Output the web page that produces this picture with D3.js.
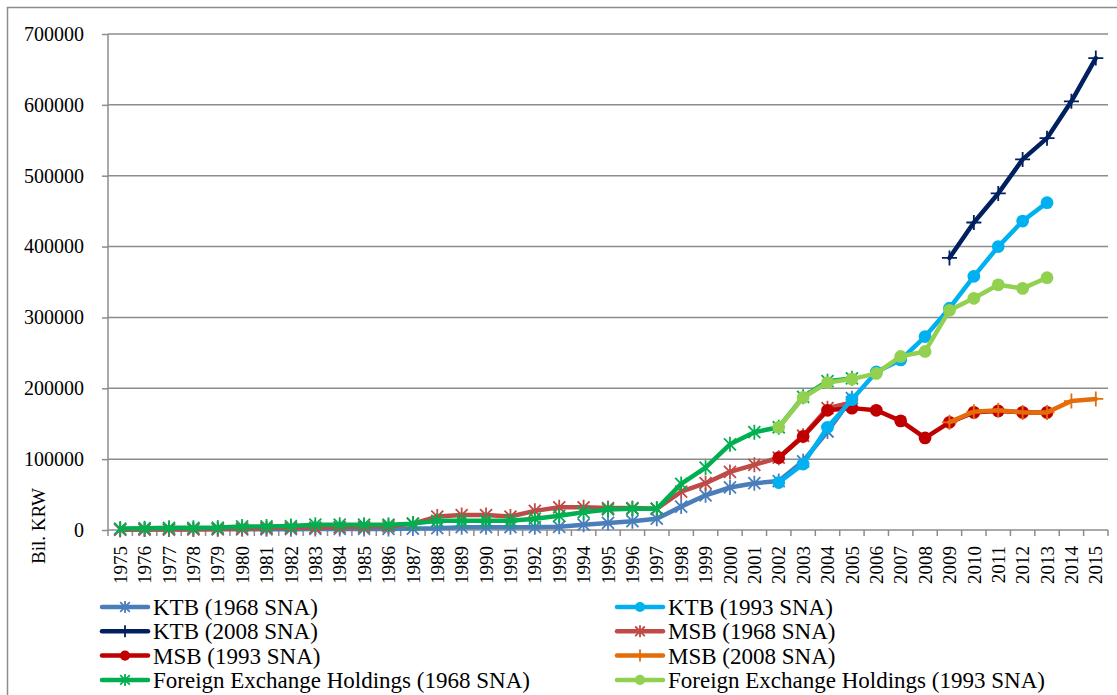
<!DOCTYPE html>
<html>
<head>
<meta charset="utf-8">
<script src="https://cdn.jsdelivr.net/npm/d3@7"></script>
<style>
  body { margin: 0; background: #fff; }
  text { font-family: "Liberation Serif", "Times New Roman", serif; fill: #000; }
</style>
</head>
<body>
<div id="chart"></div>
<script>
var years = d3.range(1975, 2016).map(String);
var yTicks = [0, 100000, 200000, 300000, 400000, 500000, 600000, 700000];

// 1975-2005
var ktb1968 = [500, 600, 700, 800, 900, 1000, 1000, 1200, 1500, 1500, 1500, 1500, 2000, 2500, 4000, 4000, 4000, 4000, 4500, 7500,
  10000, 12500, 16000, 33000, 49000, 60000, 66000, 69000, 97000, 139000, 186000];
var msb1968 = [500, 800, 1000, 1200, 1500, 2000, 2500, 3000, 3500, 4000, 4500, 5000, 9000, 19000, 21000, 21000, 19000, 27000, 32000, 32000,
  31000, 31000, 30000, 54000, 66000, 82000, 92000, 102000, 133000, 172000, 180000];
var fx1968 = [2000, 2500, 3000, 3000, 3500, 5000, 5000, 5500, 7500, 7500, 7500, 7500, 9000, 13000, 13000, 13000, 13000, 16000, 20000, 25000,
  29000, 30000, 30000, 65000, 88000, 121000, 138000, 145000, 188000, 210000, 214000];
// 2002-2013
var ktb1993 = [67000, 93000, 145000, 184000, 223000, 240000, 273000, 313000, 358000, 400000, 436000, 462000];
var msb1993 = [102000, 132000, 169000, 172000, 169000, 154000, 130000, 152000, 166000, 168000, 166000, 166000];
var fx1993 = [145000, 187000, 208000, 213000, 221000, 245000, 252000, 310000, 327000, 346000, 341000, 356000];
// 2009-2015
var ktb2008 = [384000, 434000, 475000, 523000, 553000, 605000, 666000];
var msb2008 = [152000, 167000, 169000, 166000, 166000, 182000, 185000];

function pts(vals, start) {
  return vals.map(function(v, i) { return {year: String(start + i), value: v}; });
}

var series = [
  {name: "KTB (1968 SNA)", color: "#4A7EBB", marker: "star", data: pts(ktb1968, 1975), z: 0},
  {name: "KTB (1993 SNA)", color: "#00B0F0", marker: "circle", data: pts(ktb1993, 2002), z: 4},
  {name: "KTB (2008 SNA)", color: "#002060", marker: "plus", data: pts(ktb2008, 2009), z: 7},
  {name: "MSB (1968 SNA)", color: "#BE4B48", marker: "star", data: pts(msb1968, 1975), z: 1},
  {name: "MSB (1993 SNA)", color: "#C00000", marker: "circle", data: pts(msb1993, 2002), z: 3},
  {name: "MSB (2008 SNA)", color: "#E46C0A", marker: "plus", data: pts(msb2008, 2009), z: 6},
  {name: "Foreign Exchange Holdings (1968 SNA)", color: "#00B050", marker: "star", data: pts(fx1968, 1975), z: 2},
  {name: "Foreign Exchange Holdings (1993 SNA)", color: "#92D050", marker: "circle", data: pts(fx1993, 2002), z: 5}
];

var W = 1117, H = 695;
var plotLeft = 108, plotRight = 1108, plotTop = 34, plotBottom = 530;

var svg = d3.select("#chart").append("svg")
    .attr("width", W)
    .attr("height", H);

svg.append("rect")
    .attr("x", 7.5).attr("y", 7.5)
    .attr("width", W + 20).attr("height", H + 20)
    .attr("fill", "none")
    .attr("stroke", "#8c8c8c")
    .attr("stroke-width", 1.5);

var x = d3.scaleBand().domain(years).range([plotLeft, plotRight]);
var y = d3.scaleLinear().domain([0, 700000]).range([plotBottom, plotTop]);

// gridlines
svg.append("g")
  .selectAll("line")
    .data(yTicks.slice(1))
  .enter().append("line")
    .attr("x1", plotLeft).attr("x2", plotRight)
    .attr("y1", function(d) { return y(d); })
    .attr("y2", function(d) { return y(d); })
    .attr("stroke", "#8c8c8c")
    .attr("stroke-width", 1.5);

var yAxis = d3.axisLeft(y)
    .tickValues(yTicks)
    .tickSize(6)
    .tickPadding(18)
    .tickFormat(d3.format("d"));

var gy = svg.append("g")
    .attr("transform", "translate(" + plotLeft + ",0)")
    .call(yAxis);
gy.selectAll("line, path").attr("stroke", "#8c8c8c").attr("stroke-width", 1.5);
gy.select(".domain").attr("d", "M0," + plotTop + "V" + plotBottom);
gy.selectAll("text").attr("font-size", 20).attr("font-family", "Liberation Serif").attr("fill", "#000");

// x axis with ticks between categories
var gx = svg.append("g");
gx.append("line")
    .attr("x1", plotLeft).attr("x2", plotRight)
    .attr("y1", plotBottom).attr("y2", plotBottom)
    .attr("stroke", "#8c8c8c").attr("stroke-width", 1.5);
gx.selectAll(".tk")
    .data(years.concat(["end"]))
  .enter().append("line")
    .attr("x1", function(d, i) { return plotLeft + i * x.step(); })
    .attr("x2", function(d, i) { return plotLeft + i * x.step(); })
    .attr("y1", plotBottom).attr("y2", plotBottom + 6)
    .attr("stroke", "#8c8c8c").attr("stroke-width", 1.5);
gx.selectAll(".lbl")
    .data(years)
  .enter().append("text")
    .attr("transform", function(d) { return "translate(" + (x(d) + x.bandwidth() / 2) + "," + (plotBottom + 16) + ") rotate(-90)"; })
    .attr("text-anchor", "end")
    .attr("dy", "0.35em")
    .attr("font-size", 19)
    .text(function(d) { return d; });

svg.append("text")
    .attr("transform", "translate(38,526) rotate(-90)")
    .attr("text-anchor", "middle")
    .attr("dy", "0.35em")
    .attr("font-size", 19)
    .text("Bil. KRW");

function drawMarker(g, type, color, s) {
  if (type === "circle") {
    g.append("circle").attr("r", s * 0.85).attr("fill", color);
  } else if (type === "star") {
    var a = s * 0.8;
    g.append("path")
        .attr("d", "M" + (-a) + "," + (-a) + "L" + a + "," + a + "M" + (-a) + "," + a + "L" + a + "," + (-a) + "M0," + (-s) + "V" + s)
        .attr("stroke", color).attr("stroke-width", 1.8).attr("fill", "none");
  } else {
    g.append("path")
        .attr("d", "M" + (-s) + ",0H" + s + "M0," + (-s) + "V" + s)
        .attr("stroke", color).attr("stroke-width", 1.8).attr("fill", "none");
  }
}

var line = d3.line()
    .x(function(d) { return x(d.year) + x.bandwidth() / 2; })
    .y(function(d) { return y(d.value); });

var ordered = series.slice().sort(function(a, b) { return a.z - b.z; });
ordered.forEach(function(s) {
  var g = svg.append("g");
  g.append("path")
      .datum(s.data)
      .attr("d", line)
      .attr("fill", "none")
      .attr("stroke", s.color)
      .attr("stroke-width", 4.5)
      .attr("stroke-linejoin", "round")
      .attr("stroke-linecap", "round");
  g.selectAll(".m")
      .data(s.data)
    .enter().append("g")
      .attr("transform", function(d) { return "translate(" + (x(d.year) + x.bandwidth() / 2) + "," + y(d.value) + ")"; })
      .each(function() { drawMarker(d3.select(this), s.marker, s.color, 7.5); });
});

// legend, two columns
var legend = svg.append("g");
series.forEach(function(s, i) {
  var col = i % 2, row = Math.floor(i / 2);
  var lx = col === 0 ? 102 : 617;
  var ly = 607 + row * 24.3;
  var g = legend.append("g").attr("transform", "translate(" + lx + "," + ly + ")");
  g.append("line")
      .attr("x1", 0).attr("x2", 46)
      .attr("stroke", s.color).attr("stroke-width", 4.5)
      .attr("stroke-linecap", "round");
  var m = g.append("g").attr("transform", "translate(23,0)");
  drawMarker(m, s.marker, s.color, 6);
  g.append("text")
      .attr("x", 51)
      .attr("dy", "0.35em")
      .attr("font-size", 23)
      .text(s.name);
});
</script>
</body>
</html>
